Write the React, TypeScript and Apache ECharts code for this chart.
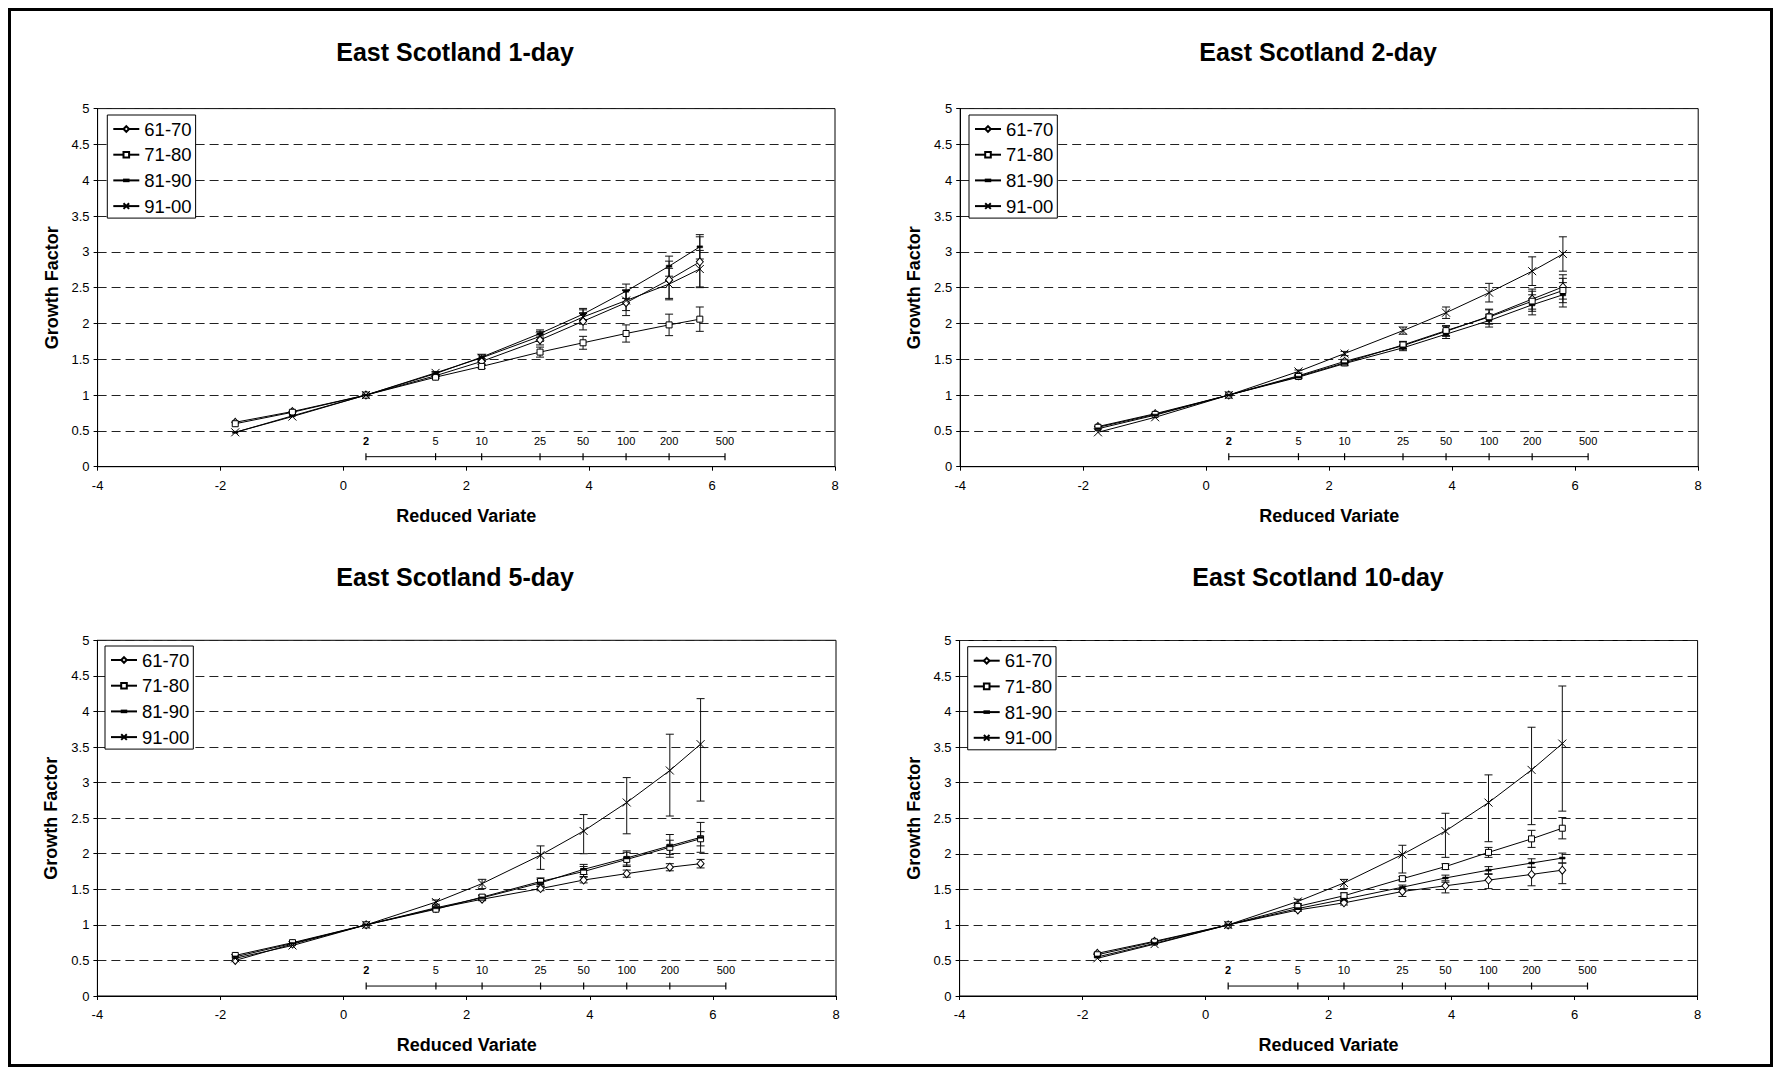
import React, { useEffect, useRef } from "react";
import * as echarts from "echarts";

// ---------- DATA ----------
const seriesNames = ["61-70", "71-80", "81-90", "91-00"];
const panelTitles = ["East Scotland 1-day", "East Scotland 2-day", "East Scotland 5-day", "East Scotland 10-day"];
const reducedVariate = [-1.76, -0.83, 0.367, 1.5, 2.25, 3.2, 3.9, 4.6, 5.3, 5.8];
const returnPeriodLabels = ["2", "5", "10", "25", "50", "100", "200", "500"];
const returnPeriodX = [0.367, 1.5, 2.25, 3.2, 3.9, 4.6, 5.3, 6.21];
const returnPeriodLevel = 0.14;

// 1-day
const g61_1 = [0.62, 0.77, 1.0, 1.27, 1.47, 1.77, 2.03, 2.29, 2.61, 2.86];
const g71_1 = [0.6, 0.76, 1.0, 1.25, 1.4, 1.6, 1.73, 1.86, 1.98, 2.06];
const g81_1 = [0.48, 0.71, 1.0, 1.3, 1.53, 1.86, 2.13, 2.45, 2.8, 3.07];
const g91_1 = [0.48, 0.7, 1.0, 1.31, 1.52, 1.82, 2.09, 2.32, 2.55, 2.76];
const err61_1 = [0, 0, 0, 0.02, 0.04, 0.07, 0.12, 0.18, 0.26, 0.35];
const err71_1 = [0, 0, 0, 0.02, 0.03, 0.07, 0.09, 0.12, 0.15, 0.17];
const err81_1 = [0, 0, 0, 0.02, 0.04, 0.05, 0.08, 0.1, 0.14, 0.17];
const err91_1 = [0, 0, 0, 0.02, 0.04, 0.07, 0.1, 0.14, 0.22, 0.26];

// 2-day
const g61_2 = [0.56, 0.74, 1.0, 1.27, 1.47, 1.69, 1.89, 2.1, 2.34, 2.51];
const g71_2 = [0.55, 0.73, 1.0, 1.26, 1.45, 1.7, 1.9, 2.09, 2.31, 2.46];
const g81_2 = [0.53, 0.72, 1.0, 1.25, 1.44, 1.66, 1.85, 2.04, 2.26, 2.4];
const g91_2 = [0.48, 0.69, 1.0, 1.33, 1.58, 1.9, 2.15, 2.43, 2.73, 2.97];
const err61_2 = [0, 0, 0, 0.02, 0.03, 0.05, 0.07, 0.1, 0.14, 0.17];
const err71_2 = [0, 0, 0, 0.02, 0.03, 0.05, 0.07, 0.1, 0.14, 0.17];
const err81_2 = [0, 0, 0, 0.02, 0.03, 0.04, 0.06, 0.09, 0.14, 0.17];
const err91_2 = [0, 0, 0, 0.02, 0.03, 0.05, 0.08, 0.13, 0.2, 0.24];

// 5-day
const g61_5 = [0.5, 0.73, 1.0, 1.23, 1.36, 1.51, 1.63, 1.72, 1.81, 1.86];
const g71_5 = [0.57, 0.75, 1.0, 1.22, 1.39, 1.61, 1.75, 1.92, 2.09, 2.21];
const g81_5 = [0.55, 0.74, 1.0, 1.24, 1.38, 1.59, 1.78, 1.94, 2.11, 2.23];
const g91_5 = [0.53, 0.71, 1.0, 1.32, 1.58, 1.98, 2.32, 2.72, 3.17, 3.54];
const err61_5 = [0, 0, 0, 0.01, 0.02, 0.03, 0.04, 0.05, 0.05, 0.06];
const err71_5 = [0, 0, 0, 0.02, 0.03, 0.05, 0.07, 0.1, 0.1, 0.1];
const err81_5 = [0, 0, 0, 0.02, 0.03, 0.05, 0.07, 0.1, 0.16, 0.21];
const errHi91_5 = [0, 0, 0, 0.03, 0.06, 0.13, 0.23, 0.35, 0.51, 0.64];
const errLo91_5 = [0, 0, 0, 0.03, 0.07, 0.2, 0.32, 0.44, 0.64, 0.8];

// 10-day
const g61_10 = [0.6, 0.77, 1.0, 1.21, 1.31, 1.47, 1.55, 1.63, 1.71, 1.77];
const g71_10 = [0.58, 0.76, 1.0, 1.26, 1.41, 1.65, 1.82, 2.02, 2.21, 2.36];
const g81_10 = [0.55, 0.74, 1.0, 1.23, 1.36, 1.53, 1.66, 1.77, 1.87, 1.94];
const g91_10 = [0.53, 0.73, 1.0, 1.33, 1.59, 1.99, 2.32, 2.72, 3.18, 3.55];
const errHi61_10 = [0, 0, 0, 0.02, 0.03, 0.04, 0.05, 0.08, 0.1, 0.1];
const errLo61_10 = [0, 0, 0, 0.02, 0.03, 0.07, 0.1, 0.12, 0.16, 0.19];
const err71_10 = [0, 0, 0, 0.02, 0.04, 0.03, 0.04, 0.07, 0.12, 0.15];
const err81_10 = [0, 0, 0, 0.02, 0.03, 0.03, 0.04, 0.05, 0.06, 0.07];
const errHi91_10 = [0, 0, 0, 0.03, 0.05, 0.13, 0.25, 0.39, 0.6, 0.81];
const errLo91_10 = [0, 0, 0, 0.03, 0.08, 0.26, 0.37, 0.55, 0.77, 0.95];

const panelValues = [
  [g61_1, g71_1, g81_1, g91_1],
  [g61_2, g71_2, g81_2, g91_2],
  [g61_5, g71_5, g81_5, g91_5],
  [g61_10, g71_10, g81_10, g91_10],
];
const panelErrHi = [
  [err61_1, err71_1, err81_1, err91_1],
  [err61_2, err71_2, err81_2, err91_2],
  [err61_5, err71_5, err81_5, errHi91_5],
  [errHi61_10, err71_10, err81_10, errHi91_10],
];
const panelErrLo = [
  [err61_1, err71_1, err81_1, err91_1],
  [err61_2, err71_2, err81_2, err91_2],
  [err61_5, err71_5, err81_5, errLo91_5],
  [errLo61_10, err71_10, err81_10, errLo91_10],
];

// ---------- LAYOUT / STYLE ----------
const FONT = '"Liberation Sans", Arial, Helvetica, sans-serif';
const layouts = [
  { left: 97.6, top: 108.6, width: 737.4, height: 358.1, titleX: 455, titleY: 52, legendLeft: 107.3, legendTop: 115 },
  { left: 960.2, top: 108.6, width: 738, height: 358.1, titleX: 1318, titleY: 52, legendLeft: 969, legendTop: 115 },
  { left: 97.4, top: 640.3, width: 738.6, height: 355.7, titleX: 455, titleY: 577, legendLeft: 105, legendTop: 646 },
  { left: 959.6, top: 640.5, width: 738, height: 355.5, titleX: 1318, titleY: 577, legendLeft: 967.7, legendTop: 646.7 },
];
const markerStyles = [
  { symbol: "diamond", symbolSize: [7, 8], fill: "#fff", bw: 1 },
  { symbol: "rect", symbolSize: 6, fill: "#fff", bw: 1 },
  { symbol: "path://M0,0M10,10M1,3.6L9,3.6L9,6.4L1,6.4Z", symbolSize: 7, fill: "#000", bw: 0.5 },
  { symbol: "path://M0,0L10,10M0,10L10,0", symbolSize: 8, fill: "#fff", bw: 1 },
];

function errorBarRender(params: any, api: any) {
  const x = api.value(0);
  const lo = api.value(1);
  const hi = api.value(2);
  const pLo = api.coord([x, lo]);
  const pHi = api.coord([x, hi]);
  const hw = 4;
  const st = { stroke: "#111", lineWidth: 1 };
  return {
    type: "group",
    children: [
      { type: "line", shape: { x1: pLo[0], y1: pLo[1], x2: pHi[0], y2: pHi[1] }, style: st },
      { type: "line", shape: { x1: pLo[0] - hw, y1: pLo[1], x2: pLo[0] + hw, y2: pLo[1] }, style: st },
      { type: "line", shape: { x1: pHi[0] - hw, y1: pHi[1], x2: pHi[0] + hw, y2: pHi[1] }, style: st },
    ],
  };
}

function buildOption() {
  const grid: any[] = [];
  const xAxis: any[] = [];
  const yAxis: any[] = [];
  const legend: any[] = [];
  const series: any[] = [];
  const graphic: any[] = [];

  layouts.forEach((l, i) => {
    grid.push({
      left: l.left, top: l.top, width: l.width, height: l.height,
      show: true, borderColor: "#000", borderWidth: 1, backgroundColor: "transparent",
      outerBoundsMode: "none",
    });
    xAxis.push({
      type: "value", gridIndex: i, min: -4, max: 8, interval: 2,
      axisLine: { show: true, onZero: false, lineStyle: { color: "#000", width: 1 } },
      axisTick: { show: true, inside: false, length: 4, lineStyle: { color: "#000" } },
      axisLabel: { color: "#000", fontSize: 13, fontFamily: FONT, margin: 12 },
      splitLine: { show: false },
      name: "Reduced Variate", nameLocation: "middle", nameGap: 40,
      nameTextStyle: { color: "#000", fontSize: 18, fontWeight: "bold", fontFamily: FONT },
    });
    yAxis.push({
      type: "value", gridIndex: i, min: 0, max: 5, interval: 0.5,
      axisLine: { show: true, onZero: false, lineStyle: { color: "#000", width: 1 } },
      axisTick: { show: true, inside: false, length: 4, lineStyle: { color: "#000" } },
      axisLabel: { color: "#000", fontSize: 13, fontFamily: FONT, margin: 8 },
      splitLine: { show: true, lineStyle: { color: "#222", width: 1, type: [9, 5] } },
      name: "Growth Factor", nameLocation: "middle", nameGap: 37,
      nameTextStyle: { color: "#000", fontSize: 18, fontWeight: "bold", fontFamily: FONT },
    });
    legend.push({
      data: seriesNames, orient: "vertical", left: l.legendLeft, top: l.legendTop,
      padding: [4, 4, 2, 5], itemWidth: 26, itemHeight: 7, itemGap: 5.7,
      borderColor: "#000", borderWidth: 1, backgroundColor: "#fff", selectedMode: false,
      textStyle: { fontSize: 18.5, color: "#000", fontFamily: FONT, lineHeight: 20 },
    });
    graphic.push({
      type: "text", x: l.titleX, y: l.titleY,
      style: { text: panelTitles[i], fontSize: 25, fontWeight: "bold", fontFamily: FONT, fill: "#000", align: "center", verticalAlign: "middle" },
    });

    // return-period scale
    series.push({
      type: "line", name: "T" + i, xAxisIndex: i, yAxisIndex: i, silent: true, z: 2,
      data: returnPeriodX.map((x, k) => ({
        value: [x, returnPeriodLevel], name: returnPeriodLabels[k],
        label: k === 0 ? { fontWeight: "bold" } : undefined,
      })),
      symbol: "rect", symbolSize: [1.2, 7], showAllSymbol: true,
      itemStyle: { color: "#000" }, lineStyle: { color: "#000", width: 1 },
      label: { show: true, position: "top", distance: 7, formatter: "{b}", fontSize: 11, color: "#000", fontFamily: FONT },
      emphasis: { disabled: true },
    });

    seriesNames.forEach((name, s) => {
      const vals = panelValues[i][s];
      const hi = panelErrHi[i][s];
      const lo = panelErrLo[i][s];
      const errData: number[][] = [];
      reducedVariate.forEach((x, k) => {
        if (hi[k] > 0 || lo[k] > 0) errData.push([x, vals[k] - lo[k], vals[k] + hi[k]]);
      });
      series.push({
        type: "custom", name: "err" + i + "_" + s, xAxisIndex: i, yAxisIndex: i, silent: true, z: 3,
        data: errData, renderItem: errorBarRender,
      });
      const m = markerStyles[s];
      series.push({
        type: "line", name, xAxisIndex: i, yAxisIndex: i, silent: true, z: 4,
        data: reducedVariate.map((x, k) => [x, vals[k]]),
        symbol: m.symbol, symbolSize: m.symbolSize, showAllSymbol: true,
        lineStyle: { color: "#000", width: 1 },
        itemStyle: { color: m.fill, borderColor: "#000", borderWidth: m.bw },
        emphasis: { disabled: true },
      });
    });
  });

  return { animation: false, backgroundColor: "#fff", grid, xAxis, yAxis, legend, series, graphic };
}

export default function App() {
  const ref = useRef<HTMLDivElement>(null);
  useEffect(() => {
    document.body.style.margin = "0";
    document.body.style.overflow = "hidden";
    const chart = echarts.init(ref.current!, null, { renderer: "svg", width: 1775, height: 1068 });
    chart.setOption(buildOption() as any);
    return () => chart.dispose();
  }, []);
  return (
    <div style={{ position: "relative", width: 1775, height: 1068, background: "#fff", overflow: "hidden" }}>
      <div ref={ref} style={{ position: "absolute", left: 0, top: 0, width: 1775, height: 1068 }} />
      <div
        style={{
          position: "absolute", left: 8, top: 8, width: 1765, height: 1059,
          border: "3px solid #000", boxSizing: "border-box", pointerEvents: "none",
        }}
      />
    </div>
  );
}
